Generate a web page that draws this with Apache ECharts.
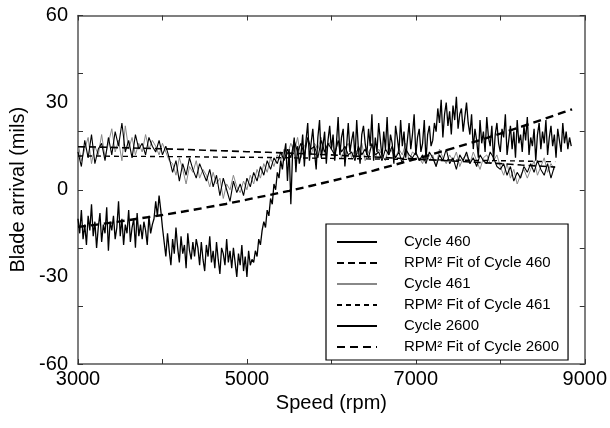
<!DOCTYPE html>
<html>
<head>
<meta charset="utf-8">
<script src="https://cdn.jsdelivr.net/npm/echarts@6/dist/echarts.min.js"></script>
<style>
html,body{margin:0;padding:0;background:#fff;}
#chart{width:610px;height:428px;}
</style>
</head>
<body>
<div id="chart"></div>
<script>
// ---- data ----
const speedStart = 3000;
const speedStep = 40;      // sampling step of cycles 460 / 461
const speedStep2600 = 20;  // sampling step of cycle 2600
const cycle460 = [13,8,17,11,19,9,14,16,10,18,12,20,15,23,13,17,11,19,14,16,12,18,15,
  13,17,12,15,11,
  6,10,3,9,5,11,7,4,9,6,
  3,7,1,5,-2,4,0,-4,3,-1,
  2,-2,4,1,6,
  3,8,5,10,7,11,9,13,10,
  14,11,17,13,16,12,18,14,15,11,17,13,16,14,12,17,13,15,12,
  13,10,15,12,14,11,16,12,13,10,14,12,15,11,13,9,14,12,11,13,
  10,12,9,13,11,8,12,10,14,9,11,7,12,10,13,9,11,8,12,10,9,13,11,8,
  7,9,5,8,3,6,4,8,6,
  9,6,10,7,5,9,4,8];
const cycle461 = [16,10,14,18,9,15,12,19,11,16,21,13,17,10,22,14,18,12,16,13,19,14,17,
  15,12,16,13,10,
  9,5,11,7,2,8,6,10,4,7,
  5,1,6,2,4,-3,2,0,5,1,
  -1,3,0,5,2,
  7,4,9,6,11,8,12,10,14,
  12,16,13,18,11,15,17,12,16,14,18,12,15,17,13,16,11,14,16,
  11,14,12,16,10,13,15,11,14,12,10,15,13,11,14,12,16,10,13,12,
  11,9,13,10,12,8,14,11,9,12,10,13,8,11,12,9,13,10,7,11,12,9,10,12,
  8,5,9,4,7,2,5,7,4,
  7,10,5,8,11,6,9,7];
const cycle2600 = [
  -10,-15,-7,-17,-12,-19,-9,-14,-5,-16,-11,-20,-13,-8,-18,-12,-15,-6,-21,-11,
  -14,-9,-17,-13,-4,-16,-10,-19,-12,-15,-7,-18,-13,-10,-20,-8,-16,-12,-17,-11,
  -14,-19,-9,-15,-12,
  -10,-4,-9,-2,-7,-13,
  -18,-23,-15,-21,-26,-17,-22,-13,-20,-25,-16,-22,-19,-27,-15,-21,-24,-18,-23,-17,
  -20,-26,-18,-24,-28,-19,-23,-16,-25,-21,-27,-18,-24,-29,-20,-22,-26,-17,-25,-21,
  -27,-20,-25,-30,-22,-26,-19,-28,-23,-30,-21,-26,-24,
  -25,-21,-23,-17,-19,-14,-11,-13,-7,-9,-3,-5,2,0,6,4,10,7,12,
  16,3,14,-5,12,18,6,15,9,
  12,19,8,17,23,10,16,21,13,7,18,24,11,15,20,9,17,22,14,19,
  10,16,25,12,18,21,8,15,23,13,17,20,11,24,14,9,19,22,16,12,
  21,15,26,10,18,13,23,17,11,20,14,25,12,19,16,9,22,18,13,24,
  15,20,11,17,23,14,19,26,12,18,21,13,16,24,10,19,22,15,17,23,
  20,28,23,31,18,26,30,22,27,19,29,24,32,21,26,28,20,25,30,23,19,26,
  14,21,17,11,24,16,20,13,25,18,15,22,10,19,23,16,13,21,18,26,
  12,17,22,14,20,11,24,16,19,13,22,17,25,12,18,15,21,10,19,23,
  14,20,16,24,12,18,22,15,19,11,21,17,13,23,16,20,14,18,15];
const fitSpeeds = [3000,3250,3500,3750,4000,4250,4500,4750,5000,5250,5500,5750,6000,6250,6500,6750,7000,7250,7500,7750,8000,8250,8500,8650];
const fitSpeeds2600 = [3000,3250,3500,3750,4000,4250,4500,4750,5000,5250,5500,5750,6000,6250,6500,6750,7000,7250,7500,7750,8000,8250,8500,8750,8850];
const fit460 = [14.8,14.7,14.5,14.3,14.1,13.9,13.6,13.4,13.1,12.9,12.6,12.3,12.0,11.6,11.3,10.9,10.6,10.2,9.8,9.4,9.0,8.5,8.1,7.8];
const fit461 = [11.6,11.6,11.5,11.5,11.4,11.4,11.3,11.2,11.2,11.1,11.0,10.9,10.8,10.7,10.6,10.5,10.4,10.3,10.2,10.1,10.0,9.9,9.7,9.7];
const fit2600 = [-12.8,-11.9,-10.9,-9.8,-8.7,-7.5,-6.2,-4.9,-3.4,-1.9,-0.4,1.3,3.0,4.8,6.6,8.6,10.6,12.7,14.8,17.0,19.3,21.7,24.2,26.7,27.7];
const seriesNames = ['Cycle 460','RPM\u00B2 Fit of Cycle 460','Cycle 461','RPM\u00B2 Fit of Cycle 461','Cycle 2600','RPM\u00B2 Fit of Cycle 2600'];
const xLabelValues = [3000,5000,7000,9000];
const xTickValues = [3000,4000,5000,6000,7000,8000,9000];
const yLabelValues = [-60,-30,0,30,60];
const yTickValues = [-60,-40,-20,0,20,40,60];

// ---- build ----
function sampled(vals, step){ return vals.map((v,i)=>[speedStart + i*step, v]); }
function paired(xs, ys){ return xs.map((x,i)=>[x, ys[i]]); }

const FONT = '"Liberation Sans", Arial, sans-serif';
const axisLineStyle = {color:'#555', width:1.5};
const tickStyle = {color:'#333', width:1};

const chart = echarts.init(document.getElementById('chart'), null, {renderer:'canvas'});
chart.setOption({
  animation:false,
  backgroundColor:'#fff',
  textStyle:{fontFamily:FONT},
  grid:{left:78, right:24, top:15.5, bottom:64, containLabel:false},
  xAxis:[{
    type:'value', min:3000, max:9000, position:'bottom',
    axisLine:{show:true, onZero:false, lineStyle:axisLineStyle},
    axisTick:{show:true, inside:true, length:5, customValues:xTickValues, lineStyle:tickStyle},
    axisLabel:{customValues:xLabelValues, color:'#000', fontSize:20, fontFamily:FONT, margin:5,
      formatter:function(v){ return String(v); }},
    splitLine:{show:false},
    name:'Speed (rpm)', nameLocation:'middle', nameGap:22,
    nameTextStyle:{color:'#000', fontSize:20, fontFamily:FONT}
  },{
    type:'value', min:3000, max:9000, position:'top',
    axisLine:{show:true, onZero:false, lineStyle:axisLineStyle},
    axisTick:{show:true, inside:true, length:5, customValues:xTickValues, lineStyle:tickStyle},
    axisLabel:{show:false}, splitLine:{show:false}
  }],
  yAxis:[{
    type:'value', min:-60, max:60, position:'left',
    axisLine:{show:true, onZero:false, lineStyle:axisLineStyle},
    axisTick:{show:true, inside:true, length:5, customValues:yTickValues, lineStyle:tickStyle},
    axisLabel:{customValues:yLabelValues, color:'#000', fontSize:20, fontFamily:FONT, margin:10},
    splitLine:{show:false},
    name:'Blade arrival (mils)', nameLocation:'middle', nameGap:46,
    nameTextStyle:{color:'#000', fontSize:20, fontFamily:FONT}
  },{
    type:'value', min:-60, max:60, position:'right',
    axisLine:{show:true, onZero:false, lineStyle:axisLineStyle},
    axisTick:{show:true, inside:true, length:5, customValues:yTickValues, lineStyle:tickStyle},
    axisLabel:{show:false}, splitLine:{show:false}
  }],
  legend:{
    orient:'vertical', left:326, top:224,
    backgroundColor:'#fff', borderColor:'#000', borderWidth:1.2,
    padding:[10,9,5,10], itemGap:5, itemWidth:40, itemHeight:14,
    itemStyle:{opacity:0},
    textStyle:{color:'#000', fontSize:15, lineHeight:16, fontFamily:FONT, padding:[0,0,0,22]},
    data:seriesNames
  },
  series:[
    {name:seriesNames[0], type:'line', data:sampled(cycle460, speedStep), symbol:'none', color:'#000', lineStyle:{color:'#000', width:1.1}, z:3},
    {name:seriesNames[1], type:'line', data:paired(fitSpeeds, fit460), symbol:'none', color:'#000', lineStyle:{color:'#000', width:1.6, type:[7,4]}, z:6},
    {name:seriesNames[2], type:'line', data:sampled(cycle461, speedStep), symbol:'none', color:'#888', lineStyle:{color:'#888', width:1}, z:2},
    {name:seriesNames[3], type:'line', data:paired(fitSpeeds, fit461), symbol:'none', color:'#000', lineStyle:{color:'#000', width:1.4, type:[5,4]}, z:6},
    {name:seriesNames[4], type:'line', data:sampled(cycle2600, speedStep2600), symbol:'none', color:'#000', lineStyle:{color:'#000', width:1.3}, z:4},
    {name:seriesNames[5], type:'line', data:paired(fitSpeeds2600, fit2600), symbol:'none', color:'#000', lineStyle:{color:'#000', width:2.4, type:[8,5]}, z:7}
  ]
});
</script>
</body>
</html>
